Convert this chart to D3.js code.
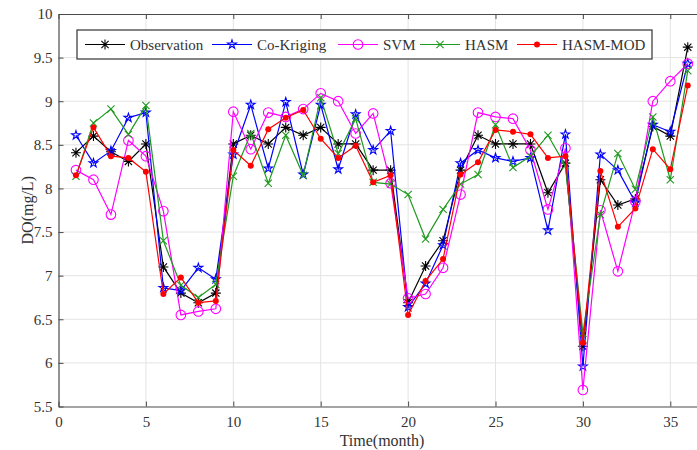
<!DOCTYPE html>
<html>
<head>
<meta charset="utf-8">
<script src="https://cdn.jsdelivr.net/npm/d3@7"></script>
<style>
  body { margin: 0; background: #fff; }
  svg text { font-family: "Liberation Serif", "Times New Roman", serif; fill: #333; }
</style>
</head>
<body>
<svg id="chart" width="697" height="450"></svg>
<script>
/* DO comparison chart */
var months = [1,2,3,4,5,6,7,8,9,10,11,12,13,14,15,16,17,18,19,20,21,22,23,24,25,26,27,28,29,30,31,32,33,34,35,36];
var xTicks = [0,5,10,15,20,25,30,35];
var yTicks = [5.5,6,6.5,7,7.5,8,8.5,9,9.5,10];

var observation = [8.41,8.60,8.42,8.31,8.51,7.10,6.80,6.69,6.80,8.51,8.61,8.51,8.70,8.61,8.70,8.51,8.51,8.21,8.21,6.69,7.11,7.40,8.21,8.61,8.51,8.51,8.51,7.95,8.29,6.19,8.10,7.81,7.88,8.71,8.60,9.62];
var coKriging   = [8.61,8.29,8.43,8.81,8.87,6.86,6.83,7.09,6.96,8.39,8.96,8.23,8.99,8.16,8.96,8.22,8.85,8.44,8.66,6.64,6.91,7.35,8.29,8.44,8.35,8.31,8.35,7.52,8.62,5.96,8.39,8.21,7.84,8.73,8.65,9.43];
var svm         = [8.21,8.10,7.70,8.55,8.37,7.74,6.55,6.59,6.62,8.88,8.45,8.87,8.82,8.91,9.09,9.00,8.63,8.86,8.06,6.74,6.79,7.09,7.93,8.87,8.82,8.80,8.44,7.76,8.46,5.69,7.75,7.05,7.85,9.00,9.23,9.43];
var hasm        = [8.14,8.75,8.91,8.62,8.95,7.40,6.89,6.75,6.90,8.14,8.63,8.06,8.61,8.15,9.04,8.40,8.80,8.07,8.05,7.93,7.42,7.76,8.05,8.16,8.73,8.24,8.37,8.61,8.26,6.34,7.70,8.40,7.99,8.82,8.10,9.35];
var hasmMod     = [8.15,8.70,8.37,8.35,8.19,6.79,6.98,6.69,6.71,8.44,8.26,8.68,8.81,8.90,8.57,8.35,8.49,8.07,8.15,6.55,6.94,7.19,8.16,8.30,8.67,8.65,8.62,8.35,8.37,6.23,8.20,7.56,7.77,8.45,8.22,9.18];

var seriesNames = ["Observation", "Co-Kriging", "SVM", "HASM", "HASM-MOD"];

var series = [
  { name: seriesNames[0], values: observation, color: "#000000", marker: "asterisk" },
  { name: seriesNames[1], values: coKriging,   color: "#0000ff", marker: "star" },
  { name: seriesNames[2], values: svm,         color: "#ff00ff", marker: "circle" },
  { name: seriesNames[3], values: hasm,        color: "#1f9a1f", marker: "cross" },
  { name: seriesNames[4], values: hasmMod,     color: "#ff0000", marker: "dot" }
];

var svg = d3.select("#chart");
// "top" is taken by window.top, so keep own names
var plotLeft = 58.5, plotTop = 14, plotBottom = 406.5;

// right edge of the box falls outside the picture
var x = d3.scaleLinear().domain([0, 37]).range([plotLeft, plotLeft + 37 * 17.48]);
var y = d3.scaleLinear().domain([5.5, 10]).range([plotBottom, plotTop]);
var plotRight = x(37);

initGrid();
initAxes();
initSeries();
initLegend();

function initGrid() {
  let grid = svg.append("g").attr("class", "grid");
  grid.selectAll("line.gx")
    .data(xTicks.slice(1))
    .join("line")
    .attr("class", "gx")
    .attr("x1", d => x(d)).attr("x2", d => x(d))
    .attr("y1", plotTop).attr("y2", plotBottom)
    .attr("stroke", "#e3e3e3").attr("stroke-width", 1);
  grid.selectAll("line.gy")
    .data(yTicks.slice(1, -1))
    .join("line")
    .attr("class", "gy")
    .attr("x1", plotLeft).attr("x2", plotRight)
    .attr("y1", d => y(d)).attr("y2", d => y(d))
    .attr("stroke", "#e3e3e3").attr("stroke-width", 1);
}

function initAxes() {
  let axisColor = "#4a4a4a";

  let xAxis = svg.append("g")
    .attr("transform", "translate(0," + plotBottom + ")")
    .call(d3.axisBottom(x).tickValues(xTicks).tickSizeInner(-5).tickSizeOuter(0).tickPadding(10));
  let yAxis = svg.append("g")
    .attr("transform", "translate(" + plotLeft + ",0)")
    .call(d3.axisLeft(y).tickValues(yTicks).tickFormat(d3.format("")).tickSizeInner(-5).tickSizeOuter(0).tickPadding(6));
  let xTop = svg.append("g")
    .attr("transform", "translate(0," + plotTop + ")")
    .call(d3.axisTop(x).tickValues(xTicks).tickSizeInner(-5).tickSizeOuter(0).tickFormat(""));

  [xAxis, yAxis, xTop].forEach(a => {
    a.select(".domain").attr("stroke", axisColor).attr("stroke-width", 1.2);
    a.selectAll(".tick line").attr("stroke", axisColor);
    a.selectAll(".tick text").attr("fill", "#333").style("font-size", "15px")
      .style("font-family", "'Liberation Serif', serif");
  });

  svg.append("text")
    .attr("x", 382).attr("y", 446)
    .attr("text-anchor", "middle")
    .style("font-size", "16px")
    .text("Time(month)");

  svg.append("text")
    .attr("transform", "translate(27," + ((plotTop + plotBottom) / 2) + ") rotate(-90)")
    .attr("text-anchor", "middle")
    .attr("dy", "0.35em")
    .style("font-size", "16px")
    .text("DO(mg/L)");
}

function drawMarker(sel, type, color) {
  if (type === "asterisk") {
    let r = 5, q = 3.6;
    sel.append("path")
      .attr("d", "M" + (-r) + ",0H" + r + "M0," + (-r) + "V" + r +
                 "M" + (-q) + "," + (-q) + "L" + q + "," + q +
                 "M" + (-q) + "," + q + "L" + q + "," + (-q))
      .attr("stroke", color).attr("stroke-width", 1.1).attr("fill", "none");
  } else if (type === "star") {
    sel.append("path")
      .attr("d", d3.symbol(d3.symbolStar, 24)())
      .attr("stroke", color).attr("stroke-width", 1.1).attr("fill", "none");
  } else if (type === "circle") {
    sel.append("circle").attr("r", 4.8)
      .attr("stroke", color).attr("stroke-width", 1.1).attr("fill", "none");
  } else if (type === "cross") {
    let r = 3.6;
    sel.append("path")
      .attr("d", "M" + (-r) + "," + (-r) + "L" + r + "," + r + "M" + (-r) + "," + r + "L" + r + "," + (-r))
      .attr("stroke", color).attr("stroke-width", 1.1).attr("fill", "none");
  } else if (type === "dot") {
    sel.append("circle").attr("r", 3).attr("fill", color);
  }
}

function initSeries() {
  let line = d3.line().x((d, i) => x(months[i])).y(d => y(d));

  series.forEach(s => {
    let g = svg.append("g").attr("class", "series");
    g.append("path")
      .attr("d", line(s.values))
      .attr("fill", "none")
      .attr("stroke", s.color)
      .attr("stroke-width", 1.2);

    g.selectAll("g.m")
      .data(s.values)
      .join("g")
      .attr("class", "m")
      .attr("transform", (d, i) => "translate(" + x(months[i]) + "," + y(d) + ")")
      .each(function() { drawMarker(d3.select(this), s.marker, s.color); });
  });
}

function initLegend() {
  let lg = svg.append("g").attr("class", "legend");
  lg.append("rect")
    .attr("x", 77).attr("y", 30)
    .attr("width", 575).attr("height", 29)
    .attr("fill", "#fff").attr("stroke", "#333").attr("stroke-width", 1.2);

  let starts = [85, 212, 338, 420, 517];
  series.forEach((s, i) => {
    let item = lg.append("g").attr("transform", "translate(" + starts[i] + ",44.5)");
    item.append("line")
      .attr("x1", 0).attr("x2", 40)
      .attr("stroke", s.color).attr("stroke-width", 1.2);
    drawMarker(item.append("g").attr("transform", "translate(20,0)"), s.marker, s.color);
    item.append("text")
      .attr("x", 45).attr("dy", "0.35em")
      .style("font-size", "15px")
      .text(s.name);
  });
}
</script>
</body>
</html>
